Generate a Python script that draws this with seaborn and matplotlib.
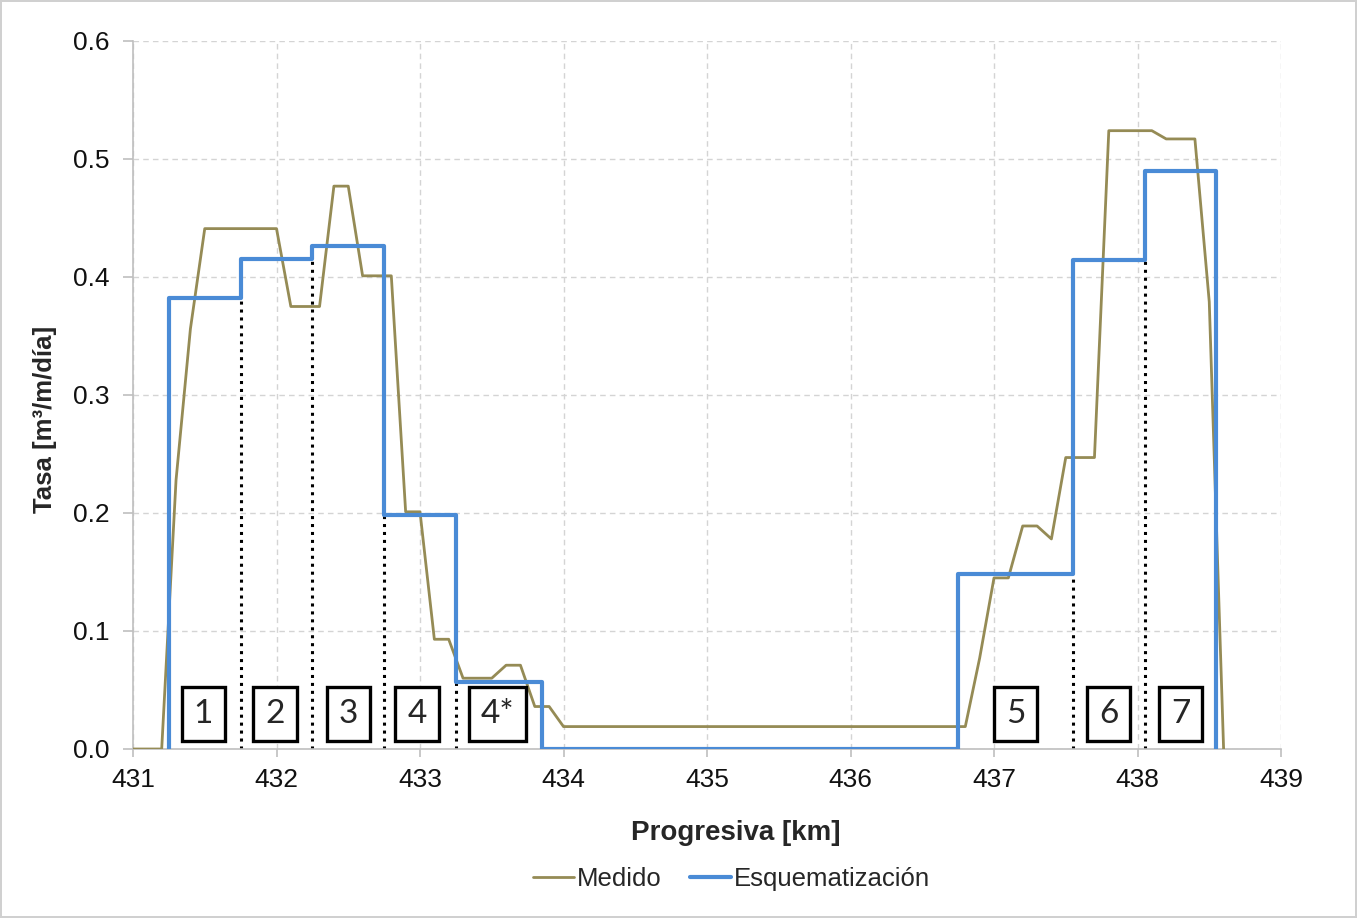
import matplotlib
matplotlib.use("Agg")
import matplotlib.pyplot as plt
import seaborn as sns
import pandas as pd

# --- Data -------------------------------------------------------------
medido_km = [431.0, 431.1, 431.2, 431.3, 431.4, 431.5, 431.6, 431.7, 431.8, 431.9,
             432.0, 432.1, 432.2, 432.3, 432.4, 432.5, 432.6, 432.7, 432.8, 432.9,
             433.0, 433.1, 433.2, 433.3, 433.4, 433.5, 433.6, 433.7, 433.8, 433.9,
             434.0, 436.8, 436.9, 437.0, 437.1, 437.2, 437.3, 437.4, 437.5, 437.6,
             437.7, 437.8, 437.9, 438.0, 438.1, 438.2, 438.3, 438.4, 438.5, 438.6]
medido_tasa = [0.0, 0.0, 0.0, 0.228, 0.356, 0.441, 0.441, 0.441, 0.441, 0.441,
               0.441, 0.375, 0.375, 0.375, 0.477, 0.477, 0.401, 0.401, 0.401, 0.201,
               0.201, 0.093, 0.093, 0.060, 0.060, 0.060, 0.071, 0.071, 0.036, 0.036,
               0.019, 0.019, 0.077, 0.145, 0.145, 0.189, 0.189, 0.178, 0.247, 0.247,
               0.247, 0.524, 0.524, 0.524, 0.524, 0.517, 0.517, 0.517, 0.379, 0.0]

esq_km = [431.25, 431.25, 431.75, 432.25, 432.75, 433.25, 433.85, 436.75, 437.55, 438.05, 438.55]
esq_tasa = [0.0, 0.382, 0.415, 0.426, 0.198, 0.057, 0.0, 0.148, 0.414, 0.490, 0.0]

# boundaries (dotted lines): km and the lower adjacent level
div_km = [431.75, 432.25, 432.75, 433.25, 437.55, 438.05]
div_top = [0.382, 0.415, 0.198, 0.057, 0.148, 0.414]

tramo_labels = ["1", "2", "3", "4", "4*", "5", "6", "7"]
tramo_km = [431.49, 431.99, 432.50, 432.98, 433.54, 437.15, 437.80, 438.30]
tramo_y = [0.030] * 8

x_ticks = [431, 432, 433, 434, 435, 436, 437, 438, 439]
y_ticks = [0.0, 0.1, 0.2, 0.3, 0.4, 0.5, 0.6]

# --- Styling ----------------------------------------------------------
sns.set_style("white")
plt.rcParams["font.family"] = ["Liberation Sans", "DejaVu Sans"]

c_med = "#958B55"
c_esq = "#4A8BD6"

fig = plt.figure(figsize=(13.57, 9.18), dpi=100)
fig.patch.set_edgecolor("#d0d0d0")
fig.patch.set_linewidth(1.5)
ax = fig.add_axes([133 / 1357, 1 - 749 / 918, (1281 - 133) / 1357, (749 - 41) / 918])

df_med = pd.DataFrame({"km": medido_km, "tasa": medido_tasa})
df_esq = pd.DataFrame({"km": esq_km, "tasa": esq_tasa})

sns.lineplot(data=df_med, x="km", y="tasa", ax=ax, color=c_med, lw=2.0,
             estimator=None, sort=False, label="Medido", zorder=3)
sns.lineplot(data=df_esq, x="km", y="tasa", ax=ax, color=c_esq, lw=3.0,
             estimator=None, sort=False, drawstyle="steps-post",
             label="Esquematización", zorder=4)

ax.vlines(div_km, 0, div_top, colors="black", linestyles=(0, (1, 1.6)), lw=2.2, zorder=2)

for lab, xk, yk in zip(tramo_labels, tramo_km, tramo_y):
    ax.text(xk, yk, lab, ha="center", va="center", fontsize=24,
            family=["Lato", "DejaVu Sans"],
            bbox=dict(boxstyle="square,pad=0.36", fc="white", ec="black", lw=2.4),
            zorder=5)

ax.set_xlim(431, 439)
ax.set_ylim(0, 0.6)
ax.set_xticks(x_ticks)
ax.set_yticks(y_ticks)
ax.set_yticklabels([f"{v:.1f}" for v in y_ticks])
ax.tick_params(axis="both", labelsize=19, colors="#bfbfbf", labelcolor="#111111",
               width=1.2, direction="out")
ax.tick_params(axis="x", length=6, pad=8, bottom=True)
ax.tick_params(axis="y", length=7, pad=10, left=True)

ax.grid(True, ls=(0, (4, 3)), color="#d4d4d4", lw=1.0)
for s in ["top", "right"]:
    ax.spines[s].set_visible(False)
for s in ["left", "bottom"]:
    ax.spines[s].set_color("#bfbfbf")
    ax.spines[s].set_linewidth(1.2)

ax.set_xlabel("Progresiva [km]", fontsize=20, fontweight="bold", labelpad=20, x=0.525)
ax.set_ylabel("Tasa [m³/m/día]", fontsize=18.5, fontweight="bold", labelpad=11, y=0.465)

ax.get_legend().remove()
handles, labels = ax.get_legend_handles_labels()
fig.legend(handles, labels, loc="center", bbox_to_anchor=(0.539, 0.042), ncol=2,
           frameon=False, fontsize=18.5, handlelength=1.6, handletextpad=0.1,
           columnspacing=1.1)

fig.savefig("out.png", dpi=100)
